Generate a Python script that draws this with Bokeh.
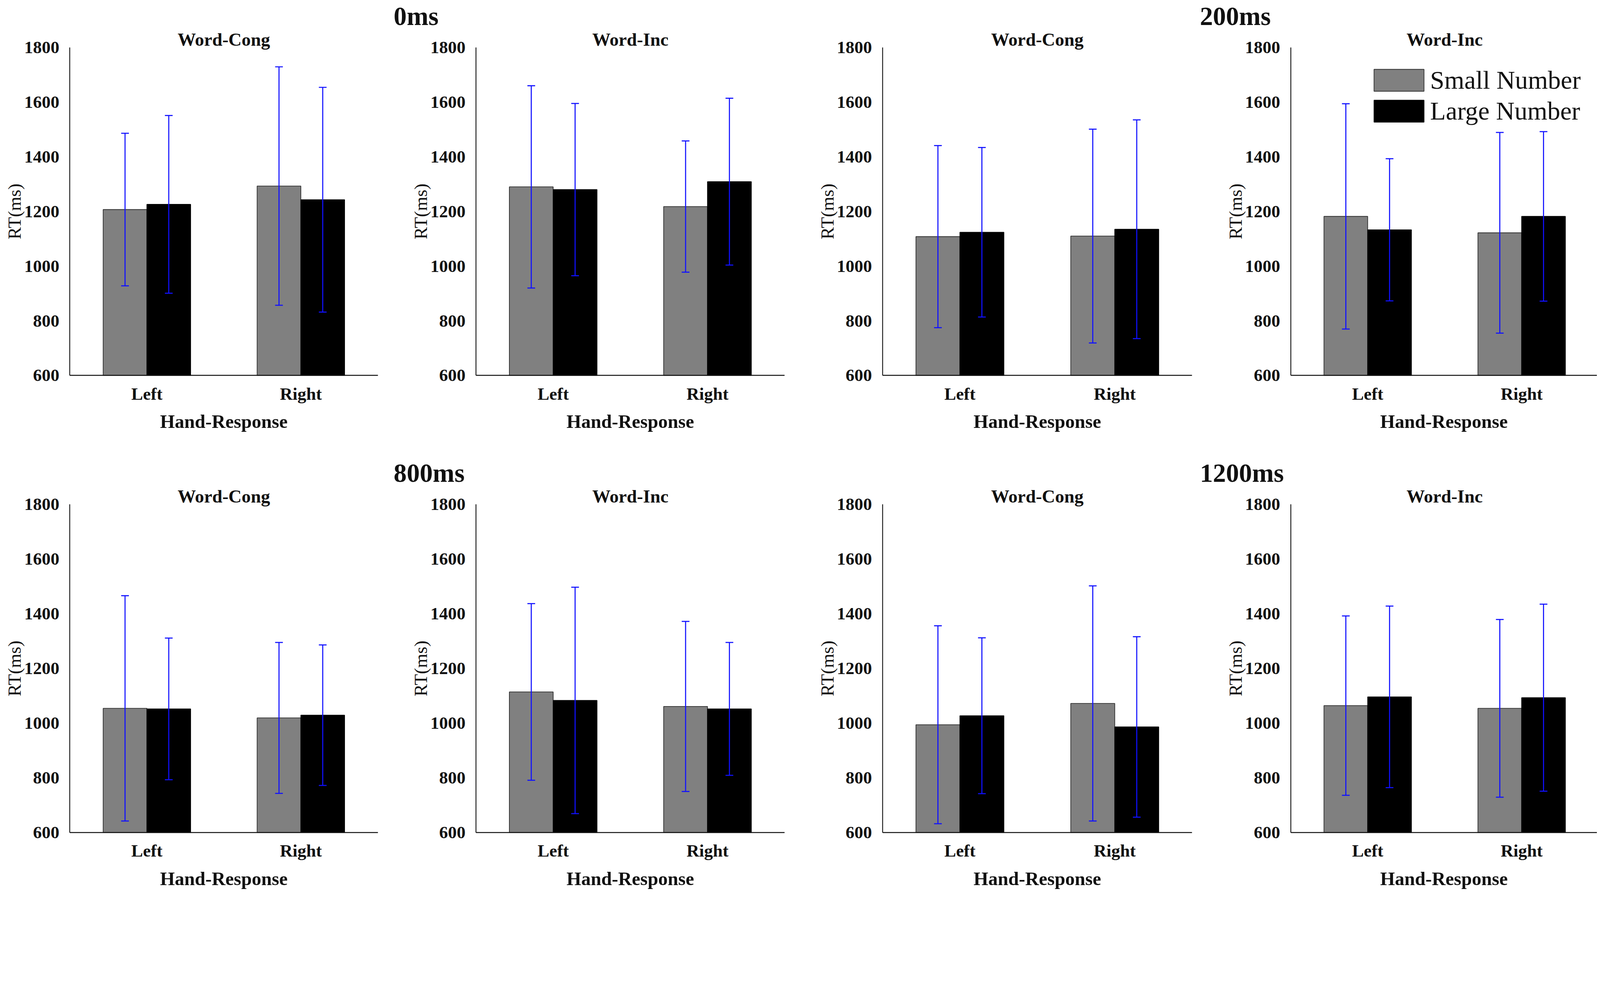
import numpy as np
from bokeh.plotting import figure
from bokeh.layouts import row, column
from bokeh.models import (ColumnDataSource, Whisker, TeeHead, FixedTicker, Range1d,
                          Label, Legend, LegendItem)
from bokeh.embed import file_html
from bokeh.resources import INLINE

# ---------------- data ----------------
delays = ["0ms", "200ms", "800ms", "1200ms"]
conditions = ["Word-Cong", "Word-Inc"]
hands = ["Left", "Right"]
series = ["Small Number", "Large Number"]
y_ticks = [600, 800, 1000, 1200, 1400, 1600, 1800]

# one entry per panel (0ms Cong, 0ms Inc, 200ms Cong, 200ms Inc,
#                      800ms Cong, 800ms Inc, 1200ms Cong, 1200ms Inc); each [Left, Right]
small_mean = [[1207, 1293], [1290, 1218], [1108, 1110], [1182, 1122],
              [1054, 1019], [1114, 1061], [994, 1072], [1064, 1054]]
small_err = [[279, 436], [370, 240], [333, 391], [412, 367],
             [412, 276], [323, 311], [362, 430], [328, 325]]
large_mean = [[1226, 1243], [1280, 1309], [1124, 1135], [1133, 1182],
              [1052, 1029], [1083, 1052], [1027, 986], [1096, 1093]]
large_err = [[325, 411], [315, 305], [310, 400], [260, 310],
             [259, 257], [414, 243], [285, 330], [332, 342]]

# ---------------- layout (picture pixels -> css pixels) ----------------
K = 1.11                     # picture px per css px
def css(v):
    return v / K
def fs(v):
    return f"{v / K:.1f}px"

FONT = "Liberation Serif"
col_w = [996, 1046, 1017, 1029]          # css px
row_h = [1136, 1142]                     # css px
ax_x0 = [207, 1361, 2516, 3676]          # picture x of the y axis
ax_x1 = [1082, 2238, 3396, 4551]         # picture x of the x-axis end
ax_ytop = [143, 1441]                    # picture y of 1800
ax_ybot = [1075, 2373]                   # picture y of 600
origin = 8 * K
col_edges = origin + np.concatenate([[0], np.cumsum(col_w)]) * K
row_edges = origin + np.concatenate([[0], np.cumsum(row_h)]) * K
group_label_px = {1: 1127, 3: 3418}
bar_w = 0.284
colors = ["#808080", "#000000"]
outline = ["#303030", "#000000"]
ink = "#111111"
blue = "#1010ff"

figs_rows = [[], []]
for d_i, delay in enumerate(delays):
    for c_i, cond in enumerate(conditions):
        k = 2 * d_i + c_i
        r = d_i // 2
        c = 2 * (d_i % 2) + c_i
        ppx = (ax_x1[c] - ax_x0[c]) / 2.0
        ppy = (ax_ybot[r] - ax_ytop[r]) / 1200.0
        x_lo = 0.5 - (ax_x0[c] - col_edges[c]) / ppx
        x_hi = 2.5 + (col_edges[c + 1] - ax_x1[c]) / ppx
        y_hi = y_ticks[-1] + (ax_ytop[r] - row_edges[r]) / ppy
        y_lo = y_ticks[0] - (row_edges[r + 1] - ax_ybot[r]) / ppy

        def to_x(px):
            return 0.5 + (px - ax_x0[c]) / ppx

        def to_y(py):
            return y_ticks[-1] + (ax_ytop[r] - py) / ppy

        p = figure(width=col_w[c], height=row_h[r],
                   x_range=Range1d(x_lo, x_hi), y_range=Range1d(y_lo, y_hi),
                   output_backend="svg", toolbar_location=None,
                   min_border=0, min_border_left=0, min_border_right=0,
                   min_border_top=0, min_border_bottom=0)
        p.outline_line_color = None
        p.xgrid.visible = False
        p.ygrid.visible = False
        p.background_fill_color = "white"
        p.border_fill_color = "white"

        pos = np.arange(len(hands)) + 1.0
        renderers = []
        for s_i, (means, errs) in enumerate([(small_mean[k], small_err[k]),
                                             (large_mean[k], large_err[k])]):
            xs = pos + (s_i - 0.5) * bar_w
            m = np.array(means, dtype=float)
            e = np.array(errs, dtype=float)
            src = ColumnDataSource(dict(x=xs, top=m, upper=m + e, lower=m - e))
            rr = p.vbar(x="x", top="top", bottom=y_ticks[0], width=bar_w, source=src,
                        fill_color=colors[s_i], line_color=outline[s_i], line_width=css(2))
            renderers.append(rr)
            wk = Whisker(source=src, base="x", upper="upper", lower="lower",
                         line_color=blue, line_width=css(3), level="overlay",
                         upper_head=TeeHead(size=css(22), line_color=blue, line_width=css(3)),
                         lower_head=TeeHead(size=css(22), line_color=blue, line_width=css(3)))
            p.add_layout(wk)

        # axes fixed at the data corner
        p.xaxis.fixed_location = y_ticks[0]
        p.xaxis.bounds = (0.5, 2.5)
        p.xaxis.ticker = FixedTicker(ticks=list(pos))
        p.xaxis.major_label_overrides = {float(v): h for v, h in zip(pos, hands)}
        p.xaxis.axis_label = "Hand-Response"
        p.yaxis.fixed_location = 0.5
        p.yaxis.bounds = (y_ticks[0], y_ticks[-1])
        p.yaxis.ticker = FixedTicker(ticks=y_ticks)
        p.yaxis.axis_label = "RT(ms)"
        for ax in (p.xaxis[0], p.yaxis[0]):
            ax.axis_line_color = ink
            ax.axis_line_width = css(2.5)
            ax.major_tick_line_color = None
            ax.minor_tick_line_color = None
            ax.major_tick_in = 0
            ax.major_tick_out = 0
            ax.minor_tick_in = 0
            ax.minor_tick_out = 0
            ax.major_label_text_font = FONT
            ax.major_label_text_font_style = "bold"
            ax.major_label_text_color = ink
            ax.axis_label_text_font = FONT
            ax.axis_label_text_color = ink
        p.yaxis.major_label_text_font_size = fs(50)
        p.yaxis.major_label_standoff = int(round(css(30)))
        p.yaxis.axis_label_text_font_size = fs(52)
        p.yaxis.axis_label_text_font_style = "normal"
        p.yaxis.axis_label_standoff = -4
        p.xaxis.major_label_text_font_size = fs(50)
        p.xaxis.major_label_standoff = int(round(css(24)))
        p.xaxis.axis_label_text_font_size = fs(54)
        p.xaxis.axis_label_text_font_style = "bold"
        p.xaxis.axis_label_standoff = int(round(css(18)))

        # panel title
        p.add_layout(Label(x=1.5, y=to_y(ax_ytop[r] - 23), text=cond,
                           text_font=FONT, text_font_size=fs(52), text_font_style="bold",
                           text_color=ink, text_align="center", text_baseline="alphabetic"))

        # delay label above the pair of panels
        if c in group_label_px:
            p.add_layout(Label(x=to_x(group_label_px[c]), y=to_y(ax_ytop[r] - 89), text=delay,
                               text_font=FONT, text_font_size=fs(74), text_font_style="bold",
                               text_color=ink, text_align="left", text_baseline="alphabetic"))

        if k == 3:
            est_h = 2 * css(73) * 1.107 + 3
            vx = css(3895 - col_edges[c])
            vy = row_h[r] - css(201 - row_edges[r]) - est_h
            legend = Legend(items=[LegendItem(label=series[0], renderers=[renderers[0]]),
                                   LegendItem(label=series[1], renderers=[renderers[1]])],
                            location=(vx, vy), margin=0, padding=0, spacing=3,
                            glyph_width=int(round(css(178))), glyph_height=int(round(css(78))),
                            label_standoff=0,
                            label_text_font=FONT, label_text_font_size=fs(73),
                            label_text_color=ink,
                            border_line_color=None, background_fill_alpha=0)
            p.add_layout(legend)
        figs_rows[r].append(p)

layout = column(row(*figs_rows[0]), row(*figs_rows[1]))
open("out.html", "w").write(file_html(layout, INLINE))
